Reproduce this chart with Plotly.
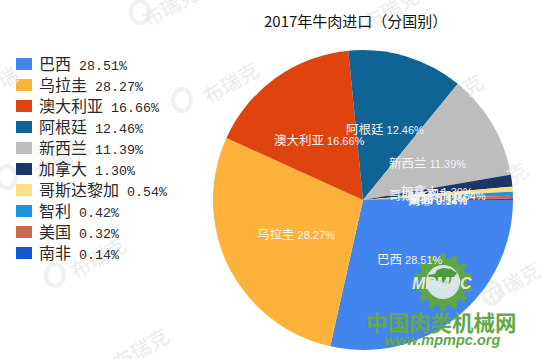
import math
import plotly.graph_objects as go

W, H = 541, 359
countries = ["巴西", "乌拉圭", "澳大利亚", "阿根廷", "新西兰", "加拿大", "哥斯达黎加", "智利", "美国", "南非"]
shares = [28.51, 28.27, 16.66, 12.46, 11.39, 1.30, 0.54, 0.42, 0.32, 0.14]
colors = ["#4285ee", "#fdb23c", "#e0440e", "#0f6495", "#bdbdbd", "#1a3566", "#fedd83", "#1f96dc", "#c9694f", "#0d5ad0"]
title = "2017年牛肉进口（分国别）"
wm_text = [(230, 82), (170, 6), (97, 257), (140, 348), (62, 160), (512, 282), (390, 8)]
wm_logo = [(182, 100), (140, 12), (55, 275), (7, 177), (492, 293)]

CJK = "Noto Sans CJK SC, SimSun, sans-serif"
MONO = "Liberation Mono, monospace"
SANS = "Liberation Sans, sans-serif"
CX, CY, R = 363, 200, 150


def px(x):
    return x / W


def py(y):
    return 1 - y / H


fig = go.Figure(go.Pie(
    labels=countries, values=shares, sort=False, direction="clockwise", rotation=90,
    marker=dict(colors=colors, line=dict(width=0)), textinfo="none", showlegend=False,
    domain=dict(x=[px(CX - R), px(CX + R)], y=[py(CY + R), py(CY - R)]),
))

ann, shapes = [], []


def text(x, y, s, size=12, color="#222", anchor="center", family=CJK, angle=0):
    ann.append(dict(xref="paper", yref="paper", x=px(x), y=py(y), text=s, showarrow=False,
                    xanchor=anchor, yanchor="middle", textangle=angle,
                    font=dict(family=family, size=size, color=color)))


def mixed(name, val, c_size, l_size, l_font):
    return (f'<span style="font-size:{c_size}px">{name}</span>'
            f'<span style="font-size:{l_size}px;font-family:{l_font}"> {val:.2f}%</span>')


for wx, wy in wm_logo:
    shapes.append(dict(type="circle", xref="paper", yref="paper", x0=px(wx - 9), x1=px(wx + 9),
                       y0=py(wy + 11), y1=py(wy - 11), line=dict(color="#f0f0f0", width=4), layer="below"))
for wx, wy in wm_text:
    text(wx, wy, "布瑞克", size=20, color="#ebebeb", angle=-30)
# only a part of these shows beside the pie and the legend
text(472, 84, "克", size=20, color="#ebebeb", angle=-30)
text(517, 172, "克", size=20, color="#f0f0f0", angle=-30)
text(7, 76, "瑞", size=20, color="#ebebeb", angle=-30)

text(355, 20, title, size=15, color="#111")

# legend
total = sum(shares)
for i, (c, v, col) in enumerate(zip(countries, shares, colors)):
    y = 64 + i * 21
    shapes.append(dict(type="rect", xref="paper", yref="paper", x0=px(16), x1=px(32), y0=py(y - 6), y1=py(y + 6),
                       fillcolor=col, line=dict(width=0)))
    text(37, y - 1, mixed(c, v, 16, 13.3, MONO), color="#2a2a2a", anchor="left")

# inside labels at half radius, computed from the data
acc = 0
for c, v in zip(countries, shares):
    a = (acc + v / 2) / total * 2 * math.pi
    acc += v
    text(CX + R / 2 * math.cos(a), CY + R / 2 * math.sin(a), mixed(c, v, 12.5, 11, SANS), color="#f4f4f4")

# site logo: gear, disc, map
GX, GY = 443, 282
pts = []
n = 14
for k in range(n):
    for da, rr in [(-0.30, 24), (-0.17, 29), (0.17, 29), (0.30, 24)]:
        a = (k + 0.5 + da) * 2 * math.pi / n
        pts.append((GX + rr * math.cos(a), GY + rr * math.sin(a)))
path = "M" + " L".join(f"{px(x)},{py(y)}" for x, y in pts) + " Z"
shapes.append(dict(type="path", xref="paper", yref="paper", path=path, fillcolor="#5fa544", line=dict(width=0)))
shapes.append(dict(type="circle", xref="paper", yref="paper", x0=px(GX - 17), x1=px(GX + 17), y0=py(GY + 17), y1=py(GY - 17),
                   fillcolor="#d5e3ea", line=dict(width=0)))
outline = [(-15, -7), (-8, -8), (-6, -12), (0, -14), (8, -13), (14, -9), (10, -4), (6, 2), (-2, 0), (-8, -2), (-13, -3)]
path = "M" + " L".join(f"{px(GX + x)},{py(GY + y)}" for x, y in outline) + " Z"
shapes.append(dict(type="path", xref="paper", yref="paper", path=path, fillcolor="#4f9a38", line=dict(width=0)))
text(GX - 1, GY + 1, "<b><i>MPMPC</i></b>", size=16, color="#dfe8df", family=SANS)
text(441, 321, "<b>中国肉类机械网</b>", size=21.5, color="#62a84a")
text(442, 340, "<b><i>www.mpmpc.org</i></b>", size=14.5, color="#62a84a", family=SANS)

fig.update_layout(width=W, height=H, margin=dict(l=0, r=0, t=0, b=0), paper_bgcolor="white",
                  annotations=ann, shapes=shapes, showlegend=False)
fig.write_html("out.html", config=dict(displayModeBar=False),
               post_script="document.body.style.margin='0';document.documentElement.style.overflow='hidden';")
